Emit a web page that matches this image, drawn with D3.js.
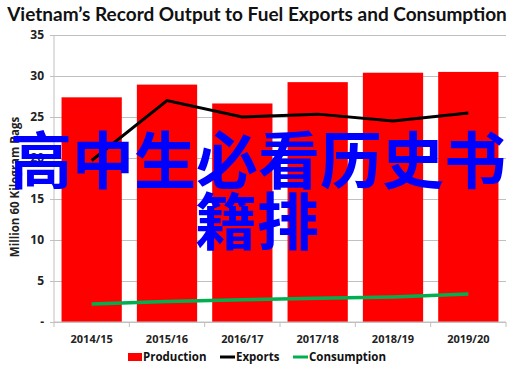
<!DOCTYPE html>
<html>
<head>
<meta charset="utf-8">
<script src="https://cdn.jsdelivr.net/npm/d3@7"></script>
<style>
  body { margin: 0; background: #fff; }
  svg { display: block; }
</style>
</head>
<body>
<svg id="chart" width="513" height="370"></svg>
<script>
const years = ['2014/15', '2015/16', '2016/17', '2017/18', '2018/19', '2019/20']
const production = [27.4, 28.95, 26.65, 29.25, 30.4, 30.5]
const exportsVals = [19.7, 27.0, 25.0, 25.35, 24.5, 25.5]
const consumption = [2.2, 2.5, 2.7, 2.9, 3.05, 3.4]
const yTicks = [0, 5, 10, 15, 20, 25, 30, 35]

const svg = d3.select('#chart')
const m = { left: 54, right: 7, top: 35, bottom: 48 }
const W = 513, H = 370

const x = d3.scaleBand()
  .domain(years)
  .range([m.left, W - m.right])
  .paddingInner(0.2)
  .paddingOuter(0.1)

const y = d3.scaleLinear()
  .domain([0, 35])
  .range([H - m.bottom, m.top])

const cx = d => x(d) + x.bandwidth() / 2

// title
svg.append('text')
  .attr('x', 257).attr('y', 21)
  .attr('text-anchor', 'middle')
  .style('font', 'bold 19px Lato, sans-serif')
  .style('fill', '#111')
  .text('Vietnam’s Record Output to Fuel Exports and Consumption')

// grid + y axis
const yAxis = d3.axisLeft(y)
  .tickValues(yTicks)
  .tickSize(-(W - m.right - m.left))
  .tickPadding(10)
  .tickFormat(d => d === 0 ? '-' : d)

svg.append('g')
  .attr('transform', `translate(${m.left},0)`)
  .call(yAxis)
  .call(g => {
    g.select('.domain').remove()
    g.selectAll('.tick line').style('stroke', '#c0c0c0').attr('x1', -4)
    g.selectAll('.tick text')
      .style('font', 'bold 12px "Open Sans", sans-serif')
      .style('fill', '#222')
  })

svg.append('line')
  .attr('x1', m.left).attr('x2', m.left)
  .attr('y1', y(35)).attr('y2', y(0))
  .style('stroke', '#c0c0c0')

// bars
svg.append('g').selectAll('rect')
  .data(production)
  .join('rect')
  .attr('x', (d, i) => x(years[i]))
  .attr('width', x.bandwidth())
  .attr('y', d => y(d))
  .attr('height', d => y(0) - y(d))
  .style('fill', '#ff0000')

// x axis
const bounds = d3.range(years.length + 1).map(i => m.left + i * (W - m.right - m.left) / years.length)
const xg = svg.append('g')
xg.append('line')
  .attr('x1', m.left).attr('x2', W - m.right)
  .attr('y1', y(0)).attr('y2', y(0))
  .style('stroke', '#c0c0c0')
xg.selectAll('line.tk')
  .data(bounds)
  .join('line')
  .attr('class', 'tk')
  .attr('x1', d => d).attr('x2', d => d)
  .attr('y1', y(0)).attr('y2', y(0) + 5)
  .style('stroke', '#c0c0c0')
xg.selectAll('text')
  .data(years)
  .join('text')
  .attr('x', d => cx(d))
  .attr('y', y(0) + 21)
  .attr('text-anchor', 'middle')
  .style('font', 'bold 11px "Open Sans", sans-serif')
  .style('fill', '#222')
  .text(d => d)

// lines
const line = d3.line().x((d, i) => cx(years[i])).y(d => y(d))
svg.append('path')
  .datum(exportsVals)
  .attr('d', line)
  .style('fill', 'none')
  .style('stroke', '#000')
  .style('stroke-width', 3)
svg.append('path')
  .datum(consumption)
  .attr('d', line)
  .style('fill', 'none')
  .style('stroke', '#00b050')
  .style('stroke-width', 3.5)

// axis title
svg.append('text')
  .attr('transform', 'translate(19,187) rotate(-90)')
  .attr('text-anchor', 'middle')
  .style('font', 'bold 11.5px "Open Sans", sans-serif')
  .style('fill', '#222')
  .text('Million 60 Kilogram Bags')

// legend
const lg = svg.append('g').style('font', 'bold 11.5px "Open Sans", sans-serif').style('fill', '#111')
lg.append('rect').attr('x', 128).attr('y', 353).attr('width', 14).attr('height', 8).style('fill', '#ff0000')
lg.append('text').attr('x', 143).attr('y', 361).text('Production')
lg.append('line').attr('x1', 220).attr('x2', 235).attr('y1', 357).attr('y2', 357).style('stroke', '#000').style('stroke-width', 3)
lg.append('text').attr('x', 236).attr('y', 361).text('Exports')
lg.append('line').attr('x1', 293).attr('x2', 308).attr('y1', 357).attr('y2', 357).style('stroke', '#00b050').style('stroke-width', 3)
lg.append('text').attr('x', 309).attr('y', 361).text('Consumption')

// overlay text
const ov = svg.append('g')
  .attr('text-anchor', 'middle')
  .style('font', 'bold 62px "Noto Sans CJK SC", sans-serif')
  .style('fill', '#0000ff')
ov.append('text').attr('x', 258).attr('y', 184).text('高中生必看历史书')
ov.append('text').attr('x', 257).attr('y', 245).text('籍排')
</script>
</body>
</html>
